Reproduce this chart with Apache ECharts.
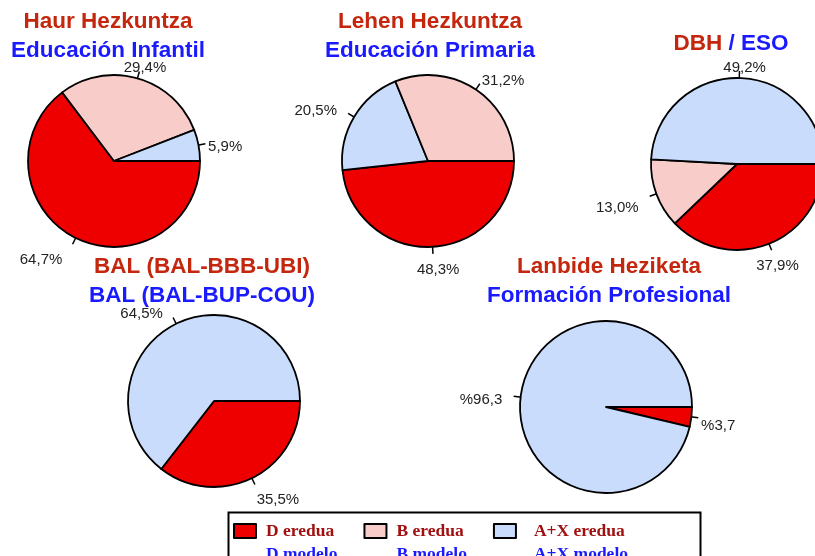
<!DOCTYPE html>
<html>
<head>
<meta charset="utf-8">
<script src="https://cdn.jsdelivr.net/npm/echarts@6/dist/echarts.min.js"></script>
<style>
  html, body { margin: 0; padding: 0; background: #fff; }
  #chart { width: 815px; height: 556px; }
</style>
</head>
<body>
<div id="chart"></div>
<script>
// categories (eredua / modelo)
const categories = ['D', 'B', 'A+X'];
const legendEu = ['D eredua', 'B eredua', 'A+X eredua'];
const legendEs = ['D modelo', 'B modelo', 'A+X modelo'];
const colors = ['#ee0000', '#f8cdc9', '#c9dcfc'];

// titres des camemberts
const titlesEu = ['Haur Hezkuntza', 'Lehen Hezkuntza', 'DBH', 'BAL (BAL-BBB-UBI)', 'Lanbide Heziketa'];
const titlesEs = ['Educación Infantil', 'Educación Primaria', '/ ESO', 'BAL (BAL-BUP-COU)', 'Formación Profesional'];

// pourcentages, ordre D, B, A+X
const haurValues = [64.7, 29.4, 5.9];
const lehenValues = [48.3, 31.2, 20.5];
const dbhValues = [37.9, 13.0, 49.2];
const balValues = [35.5, 0, 64.5];
const lanbideValues = [3.7, 0, 96.3];

// ordre des parts (sens horaire depuis 3h)
const haurOrder = [0, 1, 2];
const lehenOrder = [0, 2, 1];
const dbhOrder = [0, 1, 2];
const balOrder = [0, 2];
const lanbideOrder = [0, 2];

const R = 86;
const pies = [
  { values: haurValues, order: haurOrder, center: [114, 161], titleX: 108, titleY: 7, pctFirst: false },
  { values: lehenValues, order: lehenOrder, center: [428, 161], titleX: 430, titleY: 7, pctFirst: false },
  { values: dbhValues, order: dbhOrder, center: [737, 164], titleX: 731, titleY: 29, pctFirst: false, oneLine: true },
  { values: balValues, order: balOrder, center: [214, 401], titleX: 202, titleY: 252, pctFirst: false },
  { values: lanbideValues, order: lanbideOrder, center: [606, 407], titleX: 609, titleY: 252, pctFirst: true }
];

const titleFont = { fontFamily: 'Liberation Sans', fontWeight: 'bold', fontSize: 22.5, lineHeight: 29 };
const legendFont = { fontFamily: 'Liberation Serif', fontWeight: 'bold', fontSize: 17.5, lineHeight: 23 };

function fmt(v, pctFirst) {
  const s = v.toFixed(1).replace('.', ',');
  return pctFirst ? '%' + s : s + '%';
}

const clamp = v => Math.max(-1, Math.min(1, v));
const step = (a, b, v) => Math.max(0, Math.min(1, (v - a) / (b - a)));

const titles = pies.map((p, i) => ({
  text: p.oneLine
    ? `{r|${titlesEu[i]} }{b|${titlesEs[i]}}`
    : `{r|${titlesEu[i]}}\n{b|${titlesEs[i]}}`,
  left: p.titleX,
  top: p.titleY,
  textAlign: 'center',
  padding: 0,
  textStyle: {
    rich: {
      r: Object.assign({ color: '#c4260e' }, titleFont),
      b: Object.assign({ color: '#1a1aff' }, titleFont)
    }
  }
}));

const series = pies.map((p, i) => ({
  type: 'pie',
  center: p.center,
  radius: R,
  startAngle: 0,
  clockwise: true,
  silent: true,
  avoidLabelOverlap: false,
  itemStyle: { borderColor: '#000', borderWidth: 1.8 },
  label: {
    show: true,
    position: 'outside',
    overflow: 'none',
    fontFamily: 'Liberation Sans',
    fontSize: 15,
    color: '#222',
    formatter: d => fmt(d.value, p.pctFirst)
  },
  labelLine: { show: true, length: 8, length2: 0, lineStyle: { color: '#000', width: 1.5 } },
  // étiquette dans le prolongement du rayon (à gauche: plus écartée, comme l'original)
  labelLayout: params => {
    const pts = params.labelLinePoints;
    if (!pts) return {};
    const c = p.center;
    const dx = (pts[0][0] - c[0]) / R;
    const dy = (pts[0][1] - c[1]) / R;
    const w = params.labelRect.width, h = params.labelRect.height;
    const ax = c[0] + dx * (R + 9), ay = c[1] + dy * (R + 9);
    const offX = dx >= 0
      ? w * (0.12 + 0.4 * step(0.38, 0.43, dx))
      : clamp(dx * 3) * w * 0.72;
    return {
      x: ax + offX,
      y: ay + clamp(dy * 2) * h / 2 + 6,
      align: 'center',
      verticalAlign: 'middle',
      labelLinePoints: [
        [c[0] + dx * (R - 1), c[1] + dy * (R - 1)],
        [c[0] + dx * (R + 7), c[1] + dy * (R + 7)],
        [c[0] + dx * (R + 7), c[1] + dy * (R + 7)]
      ]
    };
  },
  data: p.order.map(k => ({
    name: categories[k],
    value: p.values[k],
    itemStyle: { color: colors[k] }
  }))
}));

const legendRich = {
  eu: Object.assign({ color: '#a01010' }, legendFont),
  es: Object.assign({ color: '#1a1aff' }, legendFont)
};

const myChart = echarts.init(document.getElementById('chart'));
myChart.setOption({
  animation: false,
  backgroundColor: '#fff',
  title: titles,
  legend: {
    // la 3e colonne du cadre a un texte plus décalé
    data: categories.map((name, k) => ({
      name: name,
      textStyle: { padding: [23, 0, 0, k === 2 ? 13 : 5], rich: legendRich }
    })),
    left: 233,
    top: 522,
    padding: 0,
    icon: 'rect',
    itemWidth: 22,
    itemHeight: 14,
    itemGap: 26,
    selectedMode: false,
    itemStyle: { borderColor: '#000', borderWidth: 2 },
    formatter: name => {
      const k = categories.indexOf(name);
      return `{eu|${legendEu[k]}}\n{es|${legendEs[k]}}`;
    },
    textStyle: {
      padding: [23, 0, 0, 5],
      rich: legendRich
    }
  },
  graphic: [{
    type: 'rect',
    left: 226,
    top: 510,
    shape: { width: 472, height: 60 },
    style: { fill: 'none', stroke: '#000', lineWidth: 2 },
    silent: true
  }],
  series: series
});
</script>
</body>
</html>
